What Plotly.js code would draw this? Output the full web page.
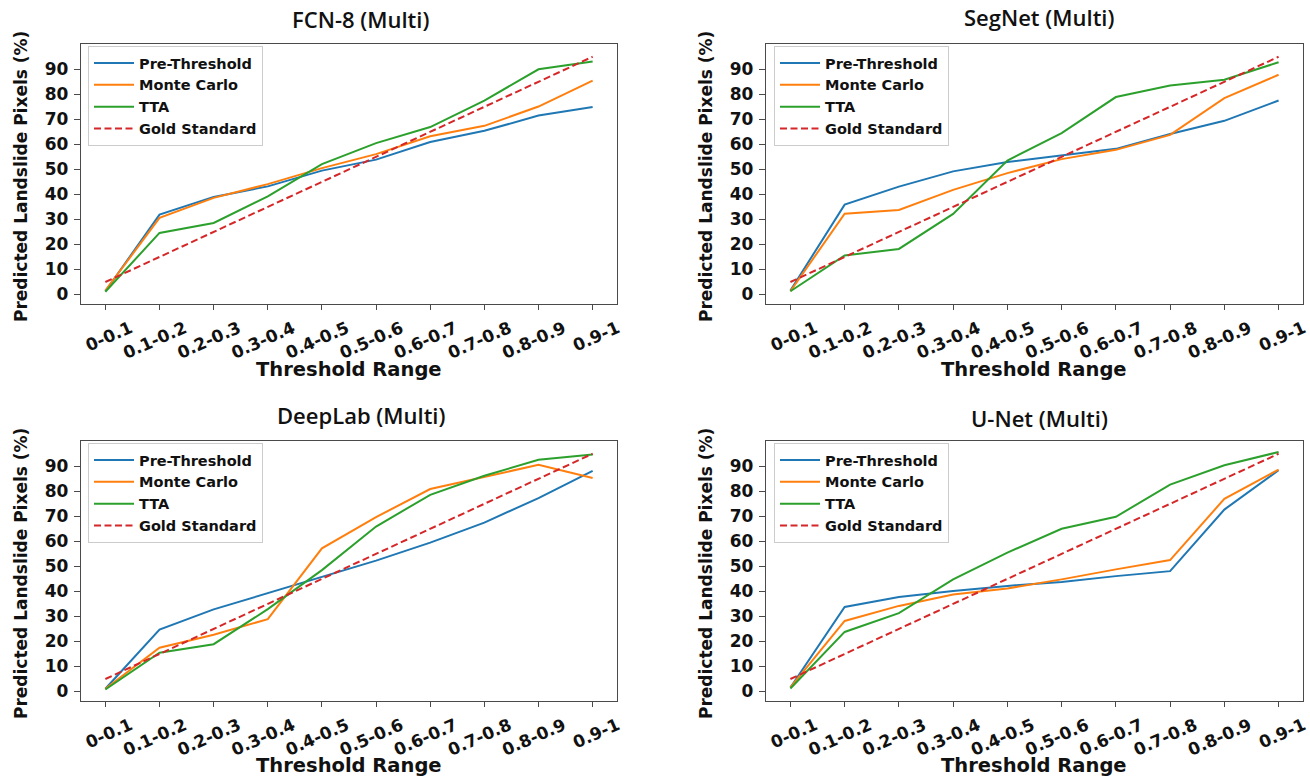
<!DOCTYPE html>
<html>
<head>
<meta charset="utf-8">
<script src="https://cdn.plot.ly/plotly-3.0.1.min.js"></script>
<style>
  html, body { margin: 0; padding: 0; background: #ffffff; }
  #chart { width: 1310px; height: 776px; }
</style>
</head>
<body>
<div id="chart"></div>
<script>
// ---- data ----
const categories = ['0-0.1', '0.1-0.2', '0.2-0.3', '0.3-0.4', '0.4-0.5', '0.5-0.6', '0.6-0.7', '0.7-0.8', '0.8-0.9', '0.9-1'];
const yTicks = [0, 10, 20, 30, 40, 50, 60, 70, 80, 90];
const seriesNames = ['Pre-Threshold', 'Monte Carlo', 'TTA', 'Gold Standard'];
const panelTitles = ['FCN-8 (Multi)', 'SegNet (Multi)', 'DeepLab (Multi)', 'U-Net (Multi)'];
const xAxisTitle = 'Threshold Range';
const yAxisTitle = 'Predicted Landslide Pixels (%)';

const goldStandard = [5, 15, 25, 35, 45, 55, 65, 75, 85, 95];

const fcnPre = [1.3, 31.9, 39.0, 43.2, 49.5, 53.9, 60.9, 65.4, 71.5, 74.9];
const fcnMC  = [1.6, 30.6, 38.6, 44.1, 50.5, 56.1, 63.2, 67.4, 75.1, 85.5];
const fcnTTA = [1.1, 24.6, 28.6, 39.2, 52.1, 60.5, 66.9, 77.5, 90.0, 93.1];

const segPre = [1.6, 35.9, 43.1, 49.2, 52.9, 55.6, 58.2, 64.1, 69.4, 77.5];
const segMC  = [1.3, 32.3, 33.8, 41.8, 48.5, 54.1, 57.8, 63.8, 78.5, 87.8];
const segTTA = [1.3, 15.6, 18.2, 32.2, 53.5, 64.5, 78.9, 83.5, 85.8, 92.8];

const deepPre = [1.1, 24.7, 32.8, 39.4, 45.9, 52.3, 59.5, 67.5, 77.3, 88.2];
const deepMC  = [1.1, 17.5, 22.7, 28.9, 57.2, 69.7, 80.9, 85.7, 90.6, 85.3];
const deepTTA = [0.8, 15.5, 18.9, 32.9, 48.5, 65.9, 78.6, 86.2, 92.6, 94.7];

const unetPre = [1.6, 33.8, 37.8, 40.2, 42.2, 43.8, 46.1, 48.1, 72.7, 88.4];
const unetMC  = [1.6, 28.2, 34.2, 38.8, 41.2, 44.8, 48.8, 52.5, 77.0, 88.7];
const unetTTA = [1.2, 23.8, 31.3, 44.8, 55.5, 65.0, 69.8, 82.7, 90.4, 95.7];

// ---- styling ----
const W = 1310, H = 776;
const colors = ['#1f77b4', '#ff7f0e', '#2ca02c', '#d62728'];
const dashes = ['solid', 'solid', 'solid', '7px,3.5px'];
const axisColor = '#4a4a4a';
const boldFont = 'DejaVu Sans, Arial, sans-serif';

// pixel boxes of the four plot areas: [left, right, top, bottom]
const boxes = [
  [81, 617, 44, 304],
  [766, 1303, 44, 304],
  [81, 617, 441, 701],
  [766, 1303, 441, 701]
];
const legendPos = [[88, 46], [774, 46], [88, 443], [774, 443]];
const titlePos = [[360, 19], [1039, 17], [361, 415], [1039, 418]];
const xTitlePos = [[349, 369], [1034, 369], [349, 765], [1034, 765]];
const yTitlePos = [[21, 177], [706, 177], [21, 574], [706, 574]];

const panels = [
  [fcnPre, fcnMC, fcnTTA, goldStandard],
  [segPre, segMC, segTTA, goldStandard],
  [deepPre, deepMC, deepTTA, goldStandard],
  [unetPre, unetMC, unetTTA, goldStandard]
];

const traces = [];
const layout = {
  width: W, height: H,
  margin: {l: 0, r: 0, t: 0, b: 0},
  paper_bgcolor: '#ffffff',
  plot_bgcolor: '#ffffff',
  showlegend: true,
  annotations: []
};

panels.forEach((panel, p) => {
  const sfx = p === 0 ? '' : String(p + 1);
  const legendId = 'legend' + sfx;
  panel.forEach((vals, s) => {
    traces.push({
      type: 'scatter', mode: 'lines',
      x: categories, y: vals,
      name: seriesNames[s],
      xaxis: 'x' + sfx, yaxis: 'y' + sfx,
      legend: legendId,
      line: {color: colors[s], width: 2, dash: dashes[s]},
      hoverinfo: 'x+y+name'
    });
  });
  const b = boxes[p];
  layout['xaxis' + sfx] = {
    domain: [b[0] / W, b[1] / W],
    anchor: 'y' + sfx,
    type: 'category',
    range: [-0.45, 9.45],
    showgrid: false, zeroline: false,
    showline: true, mirror: true, linecolor: axisColor, linewidth: 1.3,
    ticks: 'outside', ticklen: 5, tickwidth: 1.3, tickcolor: axisColor,
    tickangle: -24,
    ticklabelshift: 25,
    ticklabelstandoff: 2,
    tickfont: {family: boldFont, size: 17, color: '#111', weight: 'bold'},
    automargin: false
  };
  layout['yaxis' + sfx] = {
    domain: [1 - b[3] / H, 1 - b[2] / H],
    anchor: 'x' + sfx,
    range: [-3.8, 100.1],
    tickvals: yTicks,
    ticktext: yTicks.map(String),
    showgrid: false, zeroline: false,
    showline: true, mirror: true, linecolor: axisColor, linewidth: 1.3,
    ticks: 'outside', ticklen: 6, tickwidth: 1.3, tickcolor: axisColor,
    ticklabelstandoff: 2,
    tickfont: {family: boldFont, size: 17, color: '#111', weight: 'bold'},
    automargin: false
  };
  layout[legendId] = {
    x: legendPos[p][0] / W, y: 1 - legendPos[p][1] / H,
    xanchor: 'left', yanchor: 'top',
    bgcolor: 'rgba(255,255,255,0.85)',
    bordercolor: '#cccccc', borderwidth: 1,
    font: {family: boldFont, size: 14.5, color: '#111', weight: 'bold'},
    itemwidth: 40,
    tracegroupgap: 0
  };
  layout.annotations.push({
    text: panelTitles[p],
    xref: 'paper', yref: 'paper',
    x: titlePos[p][0] / W, y: 1 - titlePos[p][1] / H,
    xanchor: 'center', yanchor: 'middle',
    showarrow: false,
    font: {family: 'Open Sans, sans-serif', size: 22, color: '#111', weight: 600}
  });
  layout.annotations.push({
    text: xAxisTitle,
    xref: 'paper', yref: 'paper',
    x: xTitlePos[p][0] / W, y: 1 - xTitlePos[p][1] / H,
    xanchor: 'center', yanchor: 'middle',
    showarrow: false,
    font: {family: boldFont, size: 19.5, color: '#111', weight: 'bold'}
  });
  layout.annotations.push({
    text: yAxisTitle,
    xref: 'paper', yref: 'paper',
    x: yTitlePos[p][0] / W, y: 1 - yTitlePos[p][1] / H,
    xanchor: 'center', yanchor: 'middle',
    textangle: -90,
    showarrow: false,
    font: {family: boldFont, size: 17, color: '#111', weight: 'bold'}
  });
});

Plotly.newPlot('chart', traces, layout, {displayModeBar: false});
</script>
</body>
</html>
